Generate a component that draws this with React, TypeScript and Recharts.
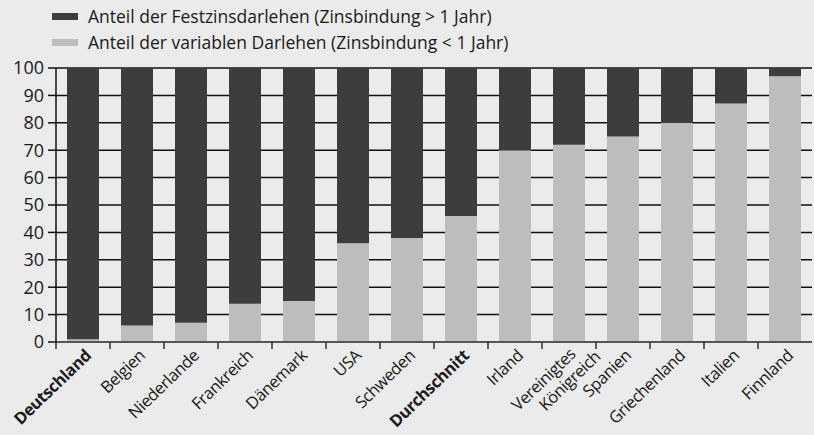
import React from 'react';
import { BarChart, Bar, XAxis, YAxis, CartesianGrid } from 'recharts';

const countries = [
  'Deutschland', 'Belgien', 'Niederlande', 'Frankreich', 'Dänemark', 'USA', 'Schweden',
  'Durchschnitt', 'Irland', 'Vereinigtes Königreich', 'Spanien', 'Griechenland', 'Italien', 'Finnland',
];
const variableShare = [1, 6, 7, 14, 15, 36, 38, 46, 70, 72, 75, 80, 87, 97];
const fixedShare = variableShare.map((v) => 100 - v);
const yTicks = [0, 10, 20, 30, 40, 50, 60, 70, 80, 90, 100];
const boldLabels = ['Deutschland', 'Durchschnitt'];

const DARK = '#3d3d3f';
const LIGHT = '#bcbdbf';
const BG = '#ebebeb';
const FONT = '"Open Sans", "Noto Sans", sans-serif';

const data = countries.map((name, i) => ({
  name,
  variabel: variableShare[i],
  fest: fixedShare[i],
}));

const legendItems = [
  { label: 'Anteil der Festzinsdarlehen (Zinsbindung > 1 Jahr)', color: DARK },
  { label: 'Anteil der variablen Darlehen (Zinsbindung < 1 Jahr)', color: LIGHT },
];

function CountryTick(props: any) {
  const { x, y, payload } = props;
  const bold = boldLabels.includes(payload.value);
  const lines = payload.value === 'Vereinigtes Königreich' ? ['Vereinigtes', 'Königreich'] : [payload.value];
  return (
    <g>
      <line x1={x - 27} y1={y - 8} x2={x - 27} y2={y - 1} stroke="#333" strokeWidth={1.5} />
      <g transform={`translate(${x + 12},${y + 4}) rotate(-44)`}>
        <text
          textAnchor="end"
          fontFamily={FONT}
          fontSize={16.5}
          letterSpacing={-0.4}
          fontWeight={bold ? 700 : 400}
          fill="#1a1a1a"
        >
          {lines.map((l, i) => (
            <tspan key={l} x={i === 0 ? -4 : 12} dy={i === 0 ? (lines.length > 1 ? -2 : 0) : 19}>
              {l}
            </tspan>
          ))}
        </text>
      </g>
    </g>
  );
}

export default function App() {
  return (
    <div style={{ position: 'absolute', left: 0, top: 0, width: 814, height: 435, background: BG }}>
      <div
        style={{
          position: 'absolute', left: 52, top: 3, fontFamily: FONT, fontSize: 17.5,
          color: '#1a1a1a', lineHeight: '26px',
        }}
      >
        {legendItems.map((it) => (
          <div key={it.label} style={{ display: 'flex', alignItems: 'center' }}>
            <span style={{ display: 'inline-block', width: 26, height: 7, background: it.color, marginRight: 10 }} />
            {it.label}
          </div>
        ))}
      </div>
      <BarChart
        width={814}
        height={435}
        data={data}
        margin={{ top: 68, right: 2, bottom: 0, left: 0 }}
        barSize={32}
      >
        <CartesianGrid vertical={false} stroke="#111" strokeWidth={1.5} />
        <XAxis
          dataKey="name"
          interval={0}
          height={93}
          tick={<CountryTick />}
          tickLine={false}
          axisLine={{ stroke: '#555', strokeWidth: 2 }}
        />
        <YAxis
          width={56}
          domain={[0, 100]}
          ticks={yTicks}
          interval={0}
          tickSize={8}
          tickMargin={4}
          tickLine={{ stroke: '#111', strokeWidth: 1.5 }}
          axisLine={{ stroke: '#111', strokeWidth: 1.5 }}
          tick={{ fontFamily: FONT, fontSize: 18, fill: '#1a1a1a' }}
        />
        <Bar dataKey="variabel" stackId="a" fill={LIGHT} isAnimationActive={false} />
        <Bar dataKey="fest" stackId="a" fill={DARK} isAnimationActive={false} />
      </BarChart>
    </div>
  );
}
